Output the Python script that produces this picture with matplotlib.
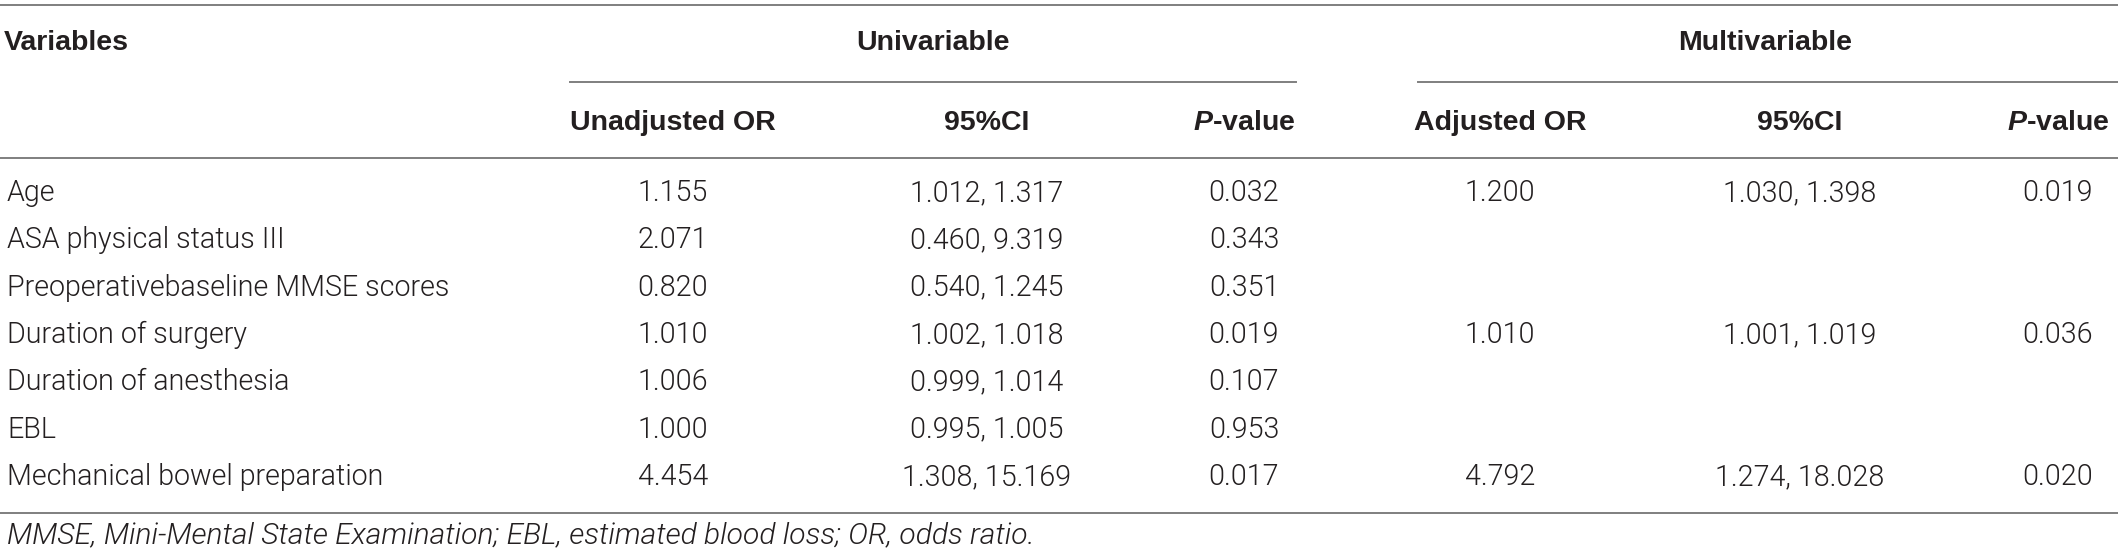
import matplotlib
matplotlib.use("Agg")
import matplotlib.pyplot as plt
from matplotlib import font_manager

plt.rcParams['font.family'] = ['Liberation Sans', 'DejaVu Sans']
plt.rcParams['mathtext.fontset'] = 'custom'
plt.rcParams['mathtext.bfit'] = 'Liberation Sans:italic:bold'
plt.rcParams['mathtext.it'] = 'Liberation Sans:italic'
plt.rcParams['mathtext.rm'] = 'Liberation Sans'
plt.rcParams['mathtext.bf'] = 'Liberation Sans:bold'

# table content
variables = [
    "Age",
    "ASA physical status III",
    "Preoperativebaseline MMSE scores",
    "Duration of surgery",
    "Duration of anesthesia",
    "EBL",
    "Mechanical bowel preparation",
]
uni_or = ["1.155", "2.071", "0.820", "1.010", "1.006", "1.000", "4.454"]
uni_ci = ["1.012, 1.317", "0.460, 9.319", "0.540, 1.245", "1.002, 1.018",
          "0.999, 1.014", "0.995, 1.005", "1.308, 15.169"]
uni_p = ["0.032", "0.343", "0.351", "0.019", "0.107", "0.953", "0.017"]
multi_or = ["1.200", "", "", "1.010", "", "", "4.792"]
multi_ci = ["1.030, 1.398", "", "", "1.001, 1.019", "", "", "1.274, 18.028"]
multi_p = ["0.019", "", "", "0.036", "", "", "0.020"]

group_labels = ["Univariable", "Multivariable"]
sub_headers = ["Unadjusted OR", "95%CI", r"$\mathbfit{P}$-value",
               "Adjusted OR", "95%CI", r"$\mathbfit{P}$-value"]
footnote = "MMSE, Mini-Mental State Examination; EBL, estimated blood loss; OR, odds ratio."

# body text in the reference is a light grotesque; use Roboto Light if present
light = None
light_it = None
for f in font_manager.fontManager.ttflist:
    if f.name == 'Roboto' and f.weight == 300:
        if f.style == 'normal' and light is None:
            light = font_manager.FontProperties(fname=f.fname)
        if f.style == 'italic' and light_it is None:
            light_it = font_manager.FontProperties(fname=f.fname)

W, H = 2118, 560
fig = plt.figure(figsize=(W / 100, H / 100), dpi=100)
ax = fig.add_axes([0, 0, 1, 1])
ax.set_xlim(0, W)
ax.set_ylim(H, 0)
ax.axis('off')

txt = '#231f20'
rule = '#7f7f7f'
fs = 20.5


def body_props(size, italic=False):
    fp = light_it if italic else light
    if fp is None:
        return dict(fontsize=size, style='italic' if italic else 'normal')
    fp = fp.copy()
    fp.set_size(size)
    return dict(fontproperties=fp)


# column centres (pixels)
col_x = [673, 987, 1244, 1500, 1800, 2058]
group_spans = [(570, 1296), (1418, 2118)]

# rules
ax.plot([0, W], [5, 5], color=rule, lw=1.4)
for x0, x1 in group_spans:
    ax.plot([x0, x1], [82, 82], color=rule, lw=1.4)
ax.plot([0, W], [158, 158], color=rule, lw=1.4)
ax.plot([0, W], [513, 513], color=rule, lw=1.4)

# headers
ax.text(4, 43, "Variables", fontsize=fs, fontweight='bold', color=txt,
        ha='left', va='center')
for (x0, x1), lab in zip(group_spans, group_labels):
    cx = (x0 + x1) / 2 if x1 < W else (x0 + 2113) / 2
    ax.text(cx, 43, lab, fontsize=fs, fontweight='bold', color=txt,
            ha='center', va='center')
for x, lab in zip(col_x, sub_headers):
    ax.text(x, 123, lab, fontsize=fs, fontweight='bold', color=txt,
            ha='center', va='center')

# body
row_y0, row_dy = 193, 47.3
columns = [uni_or, uni_ci, uni_p, multi_or, multi_ci, multi_p]
for i, name in enumerate(variables):
    y = row_y0 + i * row_dy
    ax.text(7, y, name, color=txt, ha='left', va='center', **body_props(20.6))
    for x, col in zip(col_x, columns):
        if col[i]:
            ax.text(x, y, col[i], color=txt, ha='center', va='center',
                    **body_props(20.6))

ax.text(7, 535, footnote, color=txt, ha='left', va='center',
        **body_props(21.6, italic=True))

fig.savefig("out.png", dpi=100)
